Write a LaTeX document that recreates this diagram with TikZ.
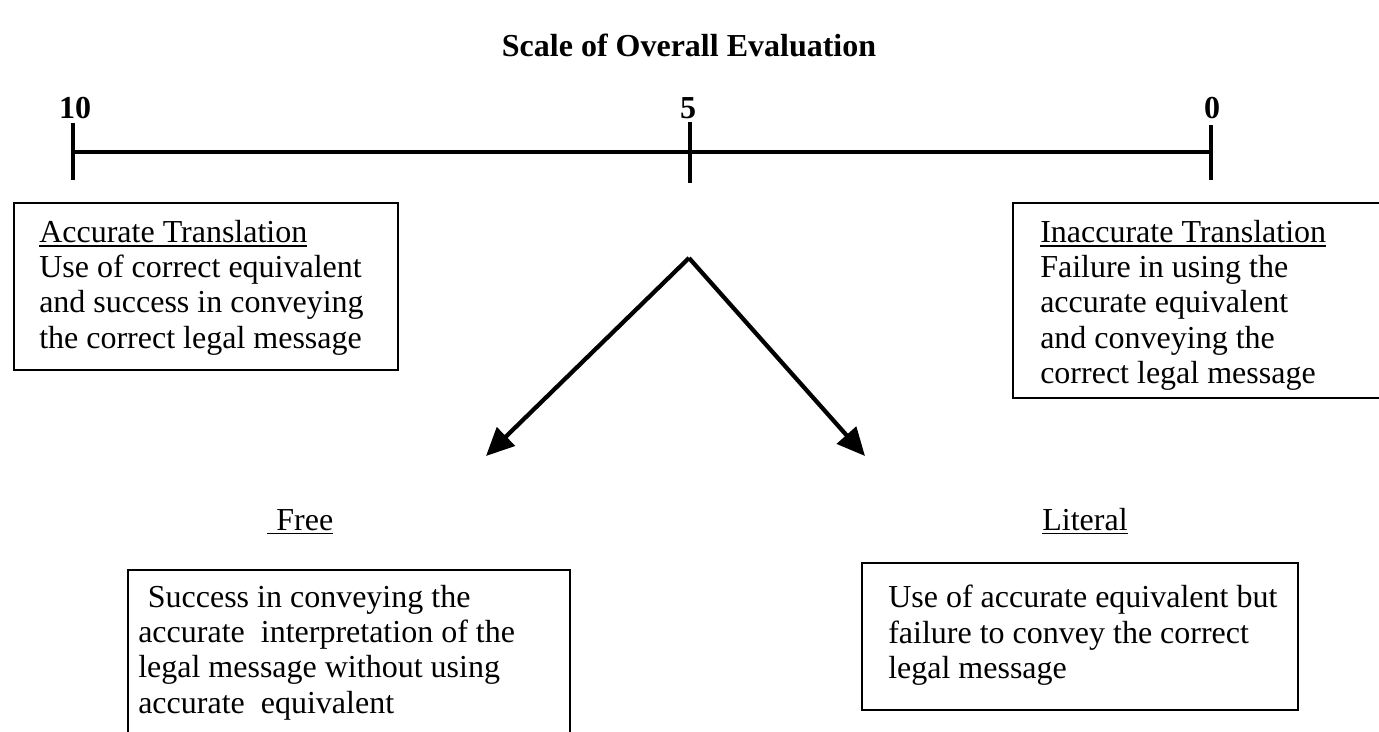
\documentclass[tikz,border=0pt]{standalone}
\usepackage{fontspec}
\setmainfont{Liberation Serif}
\usetikzlibrary{arrows.meta}
% underline drawn as a rule a little below the baseline
\newcommand\ulword[1]{\setbox0\hbox{#1}\leavevmode\rlap{\rule[-3.2pt]{\wd0}{1pt}}\box0}
\begin{document}
\begin{tikzpicture}[x=0.75pt,y=-0.75pt,
  body/.style={font=\fontsize{24}{26.4}\selectfont, inner sep=0pt, align=left, anchor=north west},
  heading/.style={font=\fontsize{24}{26.4}\selectfont\bfseries, inner sep=0pt, anchor=base},
  label/.style={font=\fontsize{24}{26.4}\selectfont, inner sep=0pt, anchor=base},
  frame/.style={line width=1.8pt},
  scaleline/.style={line width=2.4pt},
  branch/.style={line width=3.2pt, -{Triangle[length=21pt,width=19pt]}}]
\useasboundingbox (0,0) rectangle (1379,732);
\clip (0,0) rectangle (1379,732);

% title and scale marks
\node[heading] (title) at (689,56) {Scale of Overall Evaluation};
\node[heading] (n10) at (75,118) {10};
\node[heading] (n5)  at (688,118) {5};
\node[heading] (n0)  at (1212,118) {0};

% the scale itself
\coordinate (s10) at (73,152);
\coordinate (s5)  at (690,152);
\coordinate (s0)  at (1211,152);
\coordinate (s10t) at (73,123);  \coordinate (s10b) at (73,180);
\coordinate (s5t)  at (690,122); \coordinate (s5b)  at (690,183);
\coordinate (s0t)  at (1211,125);\coordinate (s0b)  at (1211,180);
\draw[scaleline] (s10) -- (s0);
\draw[scaleline] (s10t) -- (s10b);
\draw[scaleline] (s5t) -- (s5b);
\draw[scaleline] (s0t) -- (s0b);

% end-point descriptions
\draw[frame] (14,203) rectangle (398,370);
\node[body] (accurate) at (39,220) {\ulword{Accurate Translation}\\
Use of correct equivalent\\
and success in conveying\\
the correct legal message};

\draw[frame] (1400,398) -- (1013,398) -- (1013,203) -- (1400,203);
\node[body] (inaccurate) at (1040,220) {\ulword{Inaccurate Translation}\\
Failure in using the\\
accurate equivalent\\
and conveying the\\
correct legal message};

% the two middle readings
\coordinate (fork) at (689,258);
\coordinate (freetip) at (486,456);
\coordinate (literaltip) at (865,456);
\draw[branch] (fork) -- (freetip);
\draw[branch] (fork) -- (literaltip);

\node[label] (free) at (300,530) {\ulword{\hspace{0.3em}Free}};
\node[label] (literal) at (1085,530) {\ulword{Literal}};

\draw[frame] (128,760) -- (128,570) -- (570,570) -- (570,760);
\node[body] (freetext) at (138,585) {\hspace{0.3em}Success in conveying the\\
accurate\ \ interpretation of the\\
legal message without using\\
accurate\ \ equivalent};

\draw[frame] (862,563) rectangle (1298,710);
\node[body] (literaltext) at (888,585) {Use of accurate equivalent but\\
failure to convey the correct\\
legal message};
\end{tikzpicture}
\end{document}
